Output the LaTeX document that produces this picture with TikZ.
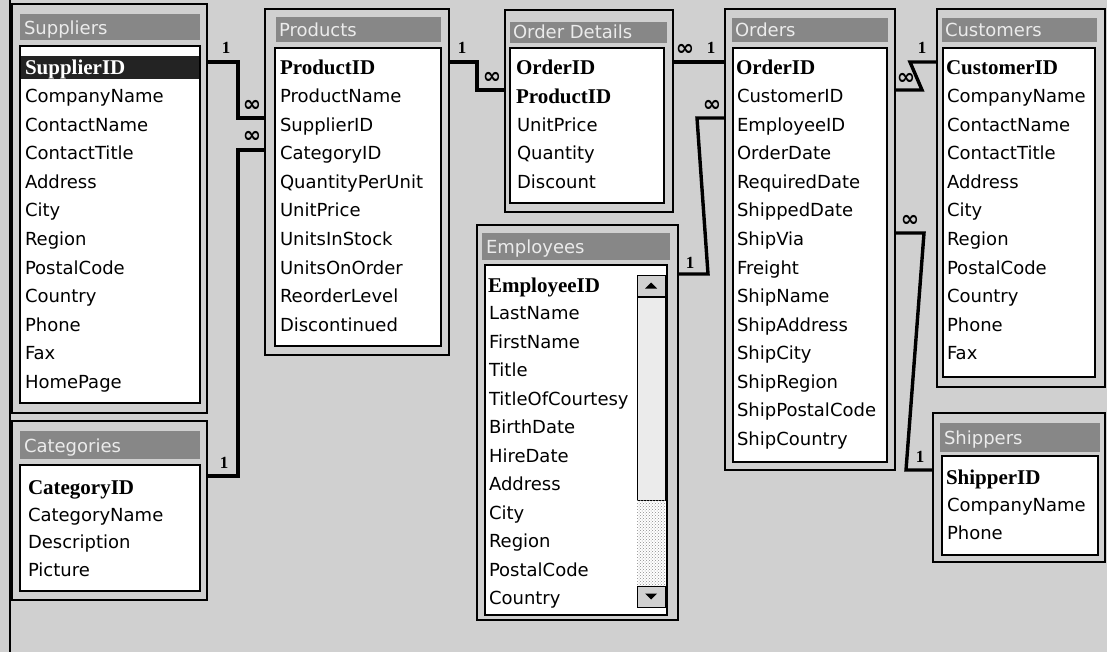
\documentclass[tikz,border=0pt]{standalone}
\usepackage{fontspec}
\setmainfont{DejaVu Sans}
\newfontfamily\keyfont{Liberation Serif}
\newfontfamily\symfont{DejaVu Sans}
\usetikzlibrary{patterns}
\definecolor{bg}{RGB}{208,208,208}
\definecolor{titlebar}{RGB}{135,135,135}
\definecolor{titletext}{RGB}{235,235,235}
\definecolor{hilite}{RGB}{35,35,35}
\newcommand\rbox[6]{\node[#1,anchor=north west,minimum width={(#5-#3)*1pt},minimum height={(#6-#4)*1pt}] (#2) at (#3,#4) {};}
\tikzset{
  base/.style={inner sep=0pt,outer sep=0pt},
  win/.style={base,draw=black,line width=1.8pt,fill=bg},
  tbar/.style={base,fill=titlebar},
  lst/.style={base,draw=black,line width=1.3pt,fill=white},
  hl/.style={base,fill=hilite},
  ttl/.style={base,anchor=base west,yshift=-6.5pt,text=titletext,font=\fontsize{18}{18}\selectfont},
  fld/.style={base,anchor=base west,yshift=-6.5pt,font=\fontsize{18}{18}\selectfont},
  key/.style={base,anchor=base west,yshift=-7pt,font=\keyfont\bfseries\fontsize{21}{21}\selectfont},
  rel/.style={draw=black,line width=3.4pt},
  one/.style={base,font=\keyfont\bfseries\fontsize{17}{17}\selectfont},
  many/.style={base,font=\symfont\bfseries\fontsize{22}{22}\selectfont},
  sbtn/.style={base,draw=black,line width=0.9pt,fill=bg},
  sthumb/.style={base,draw=black,line width=0.9pt,fill=black!8},
  strack/.style={base,pattern=crosshatch dots,pattern color=black!45},
}
\begin{document}
\begin{tikzpicture}[x=1pt,y=-1pt]
\useasboundingbox (0,0) rectangle (1107,652);
\fill[bg] (0,0) rectangle (1107,652);
\draw[line width=1.6pt] (10,0) -- (10,652);

% ---------- Suppliers
\rbox{win}{supW}{12}{4}{207}{413}
\rbox{tbar}{supB}{20}{14}{200}{40}
\rbox{lst}{supL}{20}{46}{200}{403}
\rbox{hl}{supH}{21}{56}{199}{79}
\node[ttl] (supT) at (24,28) {Suppliers};
\node[key,text=white] (sup0) at (25,68) {SupplierID};
\foreach \t [count=\i] in {CompanyName,ContactName,ContactTitle,Address,City,Region,PostalCode,Country,Phone,Fax,HomePage}
  \node[fld] (sup\i) at (25,{68+28.5*\i}) {\t};

% ---------- Categories
\rbox{win}{catW}{12}{421}{207}{600}
\rbox{tbar}{catB}{20}{431}{200}{459}
\rbox{lst}{catL}{20}{465}{200}{591}
\node[ttl] (catT) at (24,446) {Categories};
\node[key] (cat0) at (28,487) {CategoryID};
\foreach \t [count=\i] in {CategoryName,Description,Picture}
  \node[fld] (cat\i) at (28,{487+27.7*\i}) {\t};

% ---------- Products
\rbox{win}{prdW}{265}{9}{449}{355}
\rbox{tbar}{prdB}{276}{17}{441}{42}
\rbox{lst}{prdL}{275}{48}{441}{346}
\node[ttl] (prdT) at (279,30) {Products};
\node[key] (prd0) at (280,68) {ProductID};
\foreach \t [count=\i] in {ProductName,SupplierID,CategoryID,QuantityPerUnit,UnitPrice,UnitsInStock,UnitsOnOrder,ReorderLevel,Discontinued}
  \node[fld] (prd\i) at (280,{68+28.5*\i}) {\t};

% ---------- Order Details
\rbox{win}{odW}{505}{10}{673}{212}
\rbox{tbar}{odB}{510}{22}{667}{43}
\rbox{lst}{odL}{510}{48}{664}{203}
\node[ttl] (odT) at (513,32) {Order Details};
\node[key] (od0) at (516,68) {OrderID};
\node[key] (od1) at (516,96.5) {ProductID};
\foreach \t [count=\i from 2] in {UnitPrice,Quantity,Discount}
  \node[fld] (od\i) at (517,{68+28.5*\i}) {\t};

% ---------- Employees
\rbox{win}{empW}{477}{225}{678}{620}
\rbox{tbar}{empB}{482}{233}{670}{260}
\rbox{lst}{empL}{485}{265}{667}{615}
\node[ttl] (empT) at (486,247) {Employees};
\node[key] (emp0) at (488,285) {EmployeeID};
\foreach \t [count=\i] in {LastName,FirstName,Title,TitleOfCourtesy,BirthDate,HireDate,Address,City,Region,PostalCode,Country}
  \node[fld] (emp\i) at (489,{285+28.45*\i}) {\t};
\rbox{sbtn}{empUp}{637}{275}{665}{296}
\rbox{sthumb}{empTh}{637}{297}{665}{500}
\rbox{strack}{empTr}{637}{500}{665}{585}
\rbox{sbtn}{empDn}{637}{586}{665}{607}
\fill (empUp.center) ++(-6,3) -- ++(12,0) -- ++(-6,-6) -- cycle;
\fill (empDn.center) ++(-6,-3) -- ++(12,0) -- ++(-6,6) -- cycle;

% ---------- Orders
\rbox{win}{ordW}{725}{9}{895}{470}
\rbox{tbar}{ordB}{732}{18}{888}{42}
\rbox{lst}{ordL}{733}{48}{887}{462}
\node[ttl] (ordT) at (735,30) {Orders};
\node[key] (ord0) at (736,68) {OrderID};
\foreach \t [count=\i] in {CustomerID,EmployeeID,OrderDate,RequiredDate,ShippedDate,ShipVia,Freight,ShipName,ShipAddress,ShipCity,ShipRegion,ShipPostalCode,ShipCountry}
  \node[fld] (ord\i) at (737,{68+28.5*\i}) {\t};

% ---------- Customers
\rbox{win}{cusW}{937}{9}{1105}{387}
\rbox{tbar}{cusB}{942}{18}{1097}{42}
\rbox{lst}{cusL}{943}{48}{1095}{377}
\node[ttl] (cusT) at (945,30) {Customers};
\node[key] (cus0) at (946,68) {CustomerID};
\foreach \t [count=\i] in {CompanyName,ContactName,ContactTitle,Address,City,Region,PostalCode,Country,Phone,Fax}
  \node[fld] (cus\i) at (947,{68+28.5*\i}) {\t};

% ---------- Shippers
\rbox{win}{shpW}{933}{413}{1105}{562}
\rbox{tbar}{shpB}{940}{423}{1100}{452}
\rbox{lst}{shpL}{942}{456}{1098}{555}
\node[ttl] (shpT) at (944,438) {Shippers};
\node[key] (shp0) at (946,477) {ShipperID};
\foreach \t [count=\i] in {CompanyName,Phone}
  \node[fld] (shp\i) at (947,{477+28*\i}) {\t};

% ---------- Relationships
\coordinate (r1a) at (238,62); \coordinate (r1b) at (238,118);
\draw[rel] (supW.east |- r1a) -- (r1a) -- (r1b) -- (prdW.west |- r1b);
\node[one] (r1one) at (226,48) {1};
\node[many] (r1many) at (252,106) {∞};

\coordinate (r2a) at (238,476); \coordinate (r2b) at (238,150);
\draw[rel] (catW.east |- r2a) -- (r2a) -- (r2b) -- (prdW.west |- r2b);
\node[one] (r2one) at (224,463) {1};
\node[many] (r2many) at (252,137) {∞};

\coordinate (r3a) at (477,62); \coordinate (r3b) at (477,90);
\draw[rel] (prdW.east |- r3a) -- (r3a) -- (r3b) -- (odW.west |- r3b);
\node[one] (r3one) at (462,48) {1};
\node[many] (r3many) at (492,78) {∞};

\coordinate (r4a) at (700,62);
\draw[rel] (odW.east |- r4a) -- (r4a) -- (ordW.west |- r4a);
\node[many] (r4many) at (685,50) {∞};
\node[one] (r4one) at (711,48) {1};

\coordinate (r5a) at (697,118); \coordinate (r5b) at (708,274);
\draw[rel] (ordW.west |- r5a) -- (r5a) -- (r5b) -- (empW.east |- r5b);
\node[many] (r5many) at (712,106) {∞};
\node[one] (r5one) at (690,263) {1};

\coordinate (r6a) at (922,90); \coordinate (r6b) at (910,62);
\draw[rel] (ordW.east |- r6a) -- (r6a) -- (r6b) -- (cusW.west |- r6b);
\node[one] (r6one) at (922,48) {1};
\node[many] (r6many) at (906,79) {∞};

\coordinate (r7a) at (924,233); \coordinate (r7b) at (906,470);
\draw[rel] (ordW.east |- r7a) -- (r7a) -- (r7b) -- (shpW.west |- r7b);
\node[many] (r7many) at (910,221) {∞};
\node[one] (r7one) at (920,457) {1};
\end{tikzpicture}
\end{document}
